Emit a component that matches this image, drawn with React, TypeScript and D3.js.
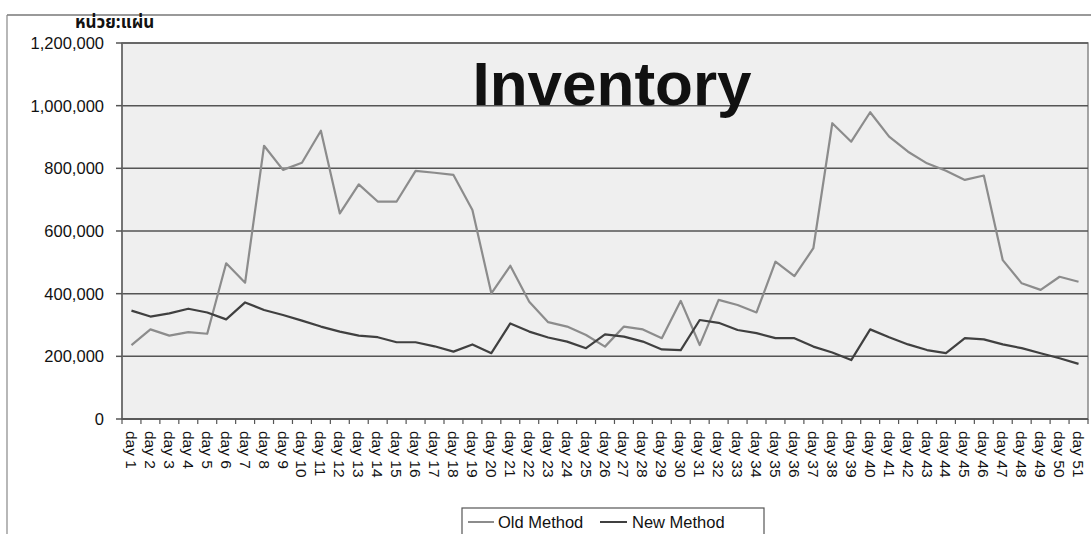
import React from "react";
import * as d3 from "d3";

const days: string[] = Array.from({ length: 51 }, (_, i) => `day ${i + 1}`);

const oldMethod: number[] = [
  236000, 286000, 266000, 277000, 272000, 497000, 435000, 872000, 795000, 818000,
  920000, 656000, 749000, 694000, 694000, 792000, 786000, 779000, 667000, 401000,
  489000, 374000, 309000, 295000, 268000, 231000, 295000, 286000, 258000, 377000,
  236000, 380000, 364000, 340000, 502000, 456000, 545000, 944000, 885000, 979000,
  901000, 853000, 816000, 792000, 763000, 777000, 507000, 433000, 412000, 454000,
  438000,
];

const newMethod: number[] = [
  346000, 327000, 337000, 352000, 340000, 318000, 372000, 348000, 332000, 314000,
  295000, 279000, 266000, 261000, 245000, 245000, 232000, 215000, 238000, 210000,
  305000, 279000, 260000, 247000, 226000, 270000, 263000, 247000, 222000, 220000,
  316000, 307000, 284000, 274000, 258000, 258000, 231000, 212000, 188000, 286000,
  261000, 238000, 220000, 210000, 258000, 254000, 238000, 226000, 210000, 194000,
  176000,
];

const yTicks: number[] = [0, 200000, 400000, 600000, 800000, 1000000, 1200000];

const seriesNames: string[] = ["Old Method", "New Method"];

export default function App() {
  const W = 1091;
  const H = 534;
  const left = 122;
  const right = 1088;
  const top = 43;
  const bottom = 419;

  const x = d3.scaleBand<string>().domain(days).range([left, right]).padding(0);
  const y = d3.scaleLinear().domain([0, 1200000]).range([bottom, top]);
  const cx = (d: string) => (x(d) as number) + x.bandwidth() / 2;

  const line = d3
    .line<number>()
    .x((_, i) => cx(days[i]))
    .y((v) => y(v));

  const fmt = d3.format(",");
  const font = "'Liberation Sans', Arial, sans-serif";
  const oldColor = "#8c8c8c";
  const newColor = "#404040";

  return (
    <svg
      width={W}
      height={H}
      style={{ position: "absolute", left: 0, top: 0, background: "#fff" }}
      fontFamily={font}
    >
      {/* outer frame */}
      <line x1={7} y1={15} x2={W} y2={15} stroke="#777" strokeWidth={1.5} />
      <line x1={7} y1={15} x2={7} y2={H} stroke="#888" strokeWidth={1.2} />

      {/* plot area */}
      <rect x={left} y={top} width={right - left} height={bottom - top} fill="#efefef" stroke="#888" strokeWidth={1.5} />

      {/* gridlines */}
      {yTicks.map((t) => (
        <line key={t} x1={left} x2={right} y1={y(t)} y2={y(t)} stroke="#555" strokeWidth={1.5} />
      ))}

      {/* y-axis */}
      <line x1={left} x2={left} y1={top} y2={bottom} stroke="#666" strokeWidth={1.5} />
      {yTicks.map((t) => (
        <g key={"yt" + t}>
          <line x1={left - 6} x2={left} y1={y(t)} y2={y(t)} stroke="#555" strokeWidth={1.5} />
          <text x={104} y={y(t)} textAnchor="end" dominantBaseline="central" fontSize={16.5} fill="#111">
            {fmt(t)}
          </text>
        </g>
      ))}

      {/* x-axis */}
      <line x1={left} x2={right} y1={bottom} y2={bottom} stroke="#555" strokeWidth={1.5} />
      {days.map((d) => (
        <line key={"xt" + d} x1={x(d) as number} x2={x(d) as number} y1={bottom} y2={bottom + 5} stroke="#555" strokeWidth={1.2} />
      ))}
      <line x1={right} x2={right} y1={bottom} y2={bottom + 5} stroke="#555" strokeWidth={1.2} />
      {days.map((d) => (
        <text
          key={"xl" + d}
          transform={`translate(${cx(d)},${bottom + 12}) rotate(90)`}
          textAnchor="start"
          dominantBaseline="central"
          fontSize={15.5}
          fill="#111"
        >
          {d}
        </text>
      ))}

      {/* series */}
      <path d={line(oldMethod) as string} fill="none" stroke={oldColor} strokeWidth={2.2} strokeLinejoin="round" />
      <path d={line(newMethod) as string} fill="none" stroke={newColor} strokeWidth={2.2} strokeLinejoin="round" />

      {/* title */}
      <text x={612} y={105} textAnchor="middle" fontSize={62} fontWeight="bold" fill="#111">
        Inventory
      </text>

      {/* unit label */}
      <text x={75} y={28} fontSize={17} fontWeight="bold" fill="#111" fontFamily="'Noto Sans Thai', 'Noto Sans', 'DejaVu Sans', sans-serif">
        หน่วย:แผ่น
      </text>

      {/* legend */}
      <rect x={462} y={508} width={302} height={30} fill="#fff" stroke="#555" strokeWidth={1.2} />
      <line x1={468} x2={494} y1={522} y2={522} stroke={oldColor} strokeWidth={2} />
      <text x={498} y={522} dominantBaseline="central" fontSize={16.5} fill="#111">
        {seriesNames[0]}
      </text>
      <line x1={600} x2={627} y1={522} y2={522} stroke={newColor} strokeWidth={2} />
      <text x={632} y={522} dominantBaseline="central" fontSize={16.5} fill="#111">
        {seriesNames[1]}
      </text>
    </svg>
  );
}
